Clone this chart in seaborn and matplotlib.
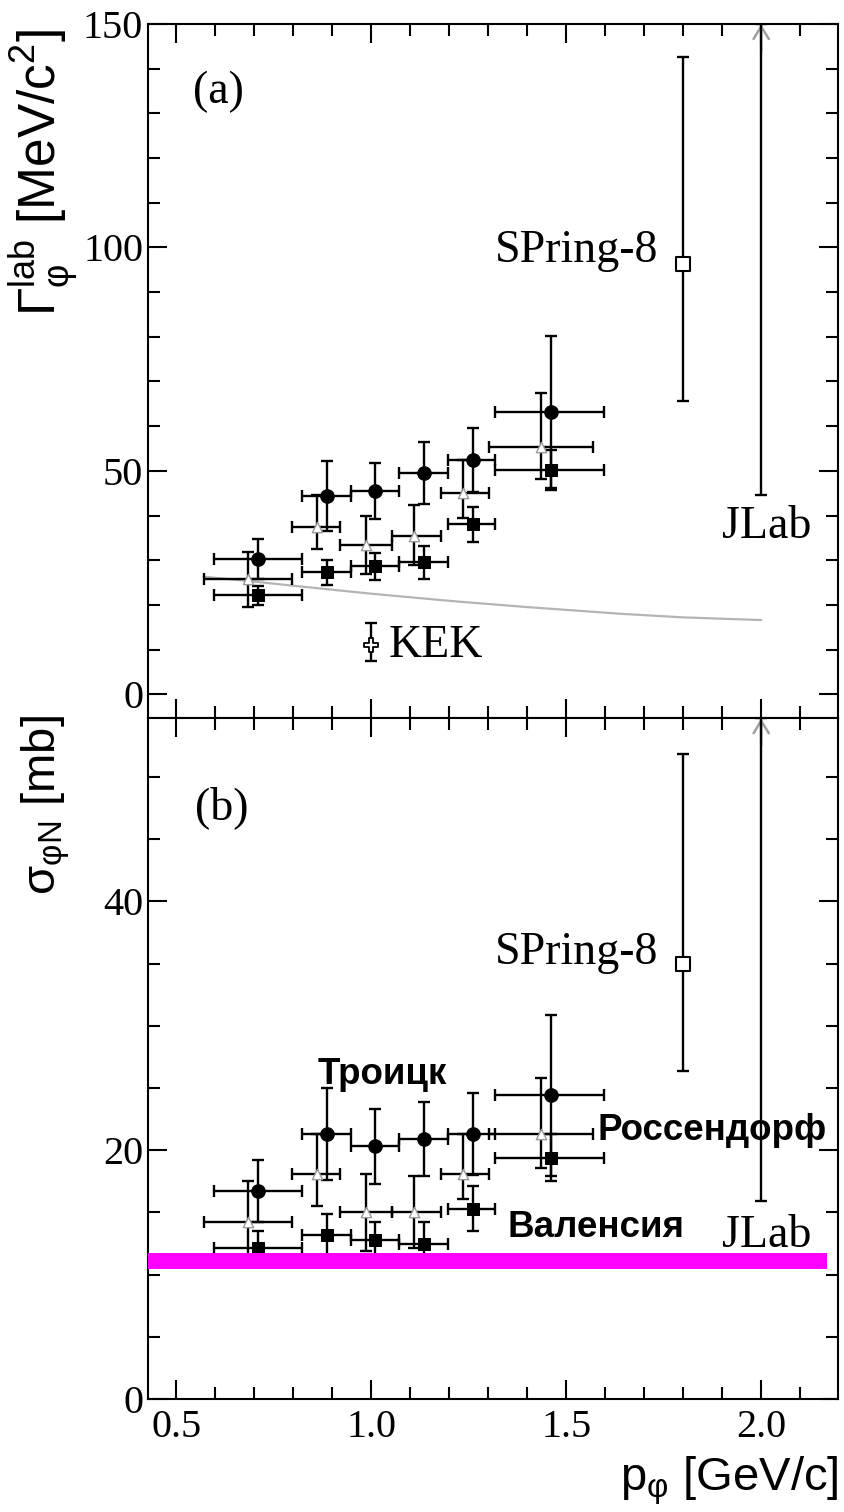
import numpy as np
import pandas as pd
import matplotlib
matplotlib.use("Agg")
import matplotlib.pyplot as plt
from matplotlib.ticker import MultipleLocator
import seaborn as sns

# ---------------- data ----------------
p_main = [0.71, 0.885, 1.01, 1.135, 1.26, 1.46]
p_main_lo = [0.596, 0.823, 0.947, 1.072, 1.197, 1.318]
p_main_hi = [0.823, 0.947, 1.072, 1.197, 1.318, 1.598]
p_tri = [0.683, 0.861, 0.986, 1.110, 1.236, 1.435]
p_tri_lo = [0.571, 0.796, 0.920, 1.053, 1.178, 1.302]
p_tri_hi = [0.796, 0.920, 1.053, 1.178, 1.302, 1.568]

width_circ = [30.3, 44.4, 45.5, 49.5, 52.4, 63.2]
width_circ_err = [4.4, 7.8, 6.3, 7.0, 7.2, 17.0]
width_sq = [22.1, 27.3, 28.6, 29.5, 38.0, 50.2]
width_sq_err = [2.1, 2.8, 3.0, 3.6, 3.9, 4.5]
width_tri = [25.7, 37.5, 33.4, 35.5, 45.0, 55.4]
width_tri_err_lo = [6.2, 5.1, 6.6, 6.6, 5.6, 7.2]
width_tri_err_hi = [6.2, 7.1, 6.6, 6.9, 7.4, 12.0]

sigma_circ = [16.7, 21.3, 20.3, 20.9, 21.3, 24.4]
sigma_circ_err = [2.5, 3.7, 3.0, 3.0, 3.3, 6.5]
sigma_sq = [12.1, 13.2, 12.8, 12.5, 15.3, 19.4]
sigma_sq_err = [1.4, 1.7, 1.4, 1.7, 1.8, 1.9]
sigma_tri = [14.2, 18.1, 15.0, 15.0, 18.1, 21.3]
sigma_tri_err_lo = [3.3, 2.6, 3.1, 2.9, 2.0, 2.7]
sigma_tri_err_hi = [3.3, 3.2, 3.1, 2.9, 3.2, 4.5]

kek_p = [1.0]
kek_width = [11.0]
kek_err_lo = [3.5]
kek_err_hi = [5.0]

spring8_p = [1.8]
spring8_width = [96.3]
spring8_width_lo = [30.7]
spring8_width_hi = [46.3]
spring8_sigma = [35.0]
spring8_sigma_lo = [8.6]
spring8_sigma_hi = [16.8]

jlab_p = [2.0]
jlab_width_min = [44.6]
jlab_sigma_min = [15.9]

curve_p = [0.57, 0.70, 0.82, 1.00, 1.20, 1.40, 1.64, 1.80, 2.00]
curve_width = [26.3, 25.2, 24.1, 22.5, 20.9, 19.5, 18.0, 17.2, 16.6]

magenta_sigma = 11.1
magenta_p_end = 2.168

x_ticks = [0.5, 1.0, 1.5, 2.0]
x_ticklabels = ["0.5", "1.0", "1.5", "2.0"]
width_ticks = [0, 50, 100, 150]
sigma_ticks = [0, 20, 40]

XLIM = (0.427, 2.198)
YLIM_TOP = (-5.4, 150)
YLIM_BOT = (0, 54.7)

# ---------------- style ----------------
sns.set_style("ticks", rc={
    "xtick.direction": "in", "ytick.direction": "in",
    "axes.edgecolor": "black", "xtick.color": "black", "ytick.color": "black",
    "axes.linewidth": 1.5,
})
plt.rcParams["font.family"] = ["Liberation Serif", "DejaVu Serif"]
plt.rcParams["mathtext.fontset"] = "custom"
plt.rcParams["mathtext.rm"] = "Liberation Sans"
plt.rcParams["mathtext.it"] = "Liberation Sans:italic"
plt.rcParams["mathtext.bf"] = "Liberation Sans:bold"

fig = plt.figure(figsize=(8.44, 15.12), dpi=100)
ax1 = fig.add_axes([0.1754, 0.5249, 0.8179, 0.4592])
ax2 = fig.add_axes([0.1754, 0.0747, 0.8179, 0.4502])

EB = dict(fmt="none", ecolor="black", elinewidth=1.7, capsize=4.6, capthick=1.7)


def draw_set(ax, y_c, e_c, y_s, e_s, y_t, e_t_lo, e_t_hi):
    xm = np.array(p_main)
    xerr_m = [xm - np.array(p_main_lo), np.array(p_main_hi) - xm]
    xt = np.array(p_tri)
    xerr_t = [xt - np.array(p_tri_lo), np.array(p_tri_hi) - xt]
    ax.errorbar(xm, y_c, xerr=xerr_m, yerr=e_c, zorder=3, **EB)
    ax.errorbar(xm, y_s, xerr=xerr_m, yerr=e_s, zorder=3, **EB)
    ax.errorbar(xt, y_t, xerr=xerr_t, yerr=[e_t_lo, e_t_hi], zorder=3, **EB)
    df_c = pd.DataFrame({"p": p_main, "v": y_c})
    df_s = pd.DataFrame({"p": p_main, "v": y_s})
    df_t = pd.DataFrame({"p": p_tri, "v": y_t})
    sns.scatterplot(data=df_c, x="p", y="v", marker="o", s=95, color="black",
                    edgecolor="black", ax=ax, zorder=4, legend=False)
    sns.scatterplot(data=df_s, x="p", y="v", marker="s", s=85, color="black",
                    edgecolor="black", ax=ax, zorder=4, legend=False)
    sns.scatterplot(data=df_t, x="p", y="v", marker="^", s=55, color="white",
                    edgecolor="#9a9a9a", linewidth=1.0, ax=ax, zorder=5, legend=False)


# ---- top panel ----
sns.lineplot(x=curve_p, y=curve_width, color="#b4b4b4", linewidth=1.6, ax=ax1, zorder=2)
draw_set(ax1, width_circ, width_circ_err, width_sq, width_sq_err,
         width_tri, width_tri_err_lo, width_tri_err_hi)

ax1.errorbar(kek_p, kek_width, yerr=[kek_err_lo, kek_err_hi], zorder=3, **EB)
sns.scatterplot(x=kek_p, y=kek_width, marker="P", s=110, color="white",
                edgecolor="black", linewidth=1.3, ax=ax1, zorder=4, legend=False)

ax1.errorbar(spring8_p, spring8_width, yerr=[spring8_width_lo, spring8_width_hi], zorder=3, **EB)
sns.scatterplot(x=spring8_p, y=spring8_width, marker="s", s=110, color="white",
                edgecolor="black", linewidth=1.5, ax=ax1, zorder=4, legend=False)

for ax, ymin, ylim in [(ax1, jlab_width_min, YLIM_TOP), (ax2, jlab_sigma_min, YLIM_BOT)]:
    ax.errorbar(jlab_p, ymin, yerr=[[0], [ylim[1] - ymin[0]]], zorder=3, **EB)
    span = ylim[1] - ylim[0]
    ax.annotate("", xy=(jlab_p[0], ylim[1]), xytext=(jlab_p[0], ylim[1] - 0.04 * span),
                arrowprops=dict(arrowstyle="->,head_length=0.9,head_width=0.55",
                                color="#a0a0a0", lw=1.8, shrinkA=0, shrinkB=0),
                zorder=2)

# ---- bottom panel ----
draw_set(ax2, sigma_circ, sigma_circ_err, sigma_sq, sigma_sq_err,
         sigma_tri, sigma_tri_err_lo, sigma_tri_err_hi)
ax2.errorbar(spring8_p, spring8_sigma, yerr=[spring8_sigma_lo, spring8_sigma_hi], zorder=3, **EB)
sns.scatterplot(x=spring8_p, y=spring8_sigma, marker="s", s=110, color="white",
                edgecolor="black", linewidth=1.5, ax=ax2, zorder=4, legend=False)
ax2.hlines(magenta_sigma, XLIM[0], magenta_p_end, color="#ff00ff", linewidth=11.5,
           zorder=6, clip_on=False)

# ---- axes formatting ----
for ax, yl, yt, ymin_loc in [(ax1, YLIM_TOP, width_ticks, 10), (ax2, YLIM_BOT, sigma_ticks, 5)]:
    ax.set_xlim(*XLIM)
    ax.set_ylim(*yl)
    ax.set_xticks(x_ticks)
    ax.set_yticks(yt)
    ax.xaxis.set_minor_locator(MultipleLocator(0.1))
    ax.yaxis.set_minor_locator(MultipleLocator(ymin_loc))
    ax.tick_params(which="both", direction="in", top=True, right=True, width=1.5, color="black")
    ax.tick_params(which="major", length=13.5)
    ax.tick_params(which="minor", length=8.5)
    ax.tick_params(axis="y", labelsize=29, pad=3.5)
    ax.tick_params(axis="x", labelsize=29, pad=7)
    ax.set_xlabel("")
    ax.set_ylabel("")
    for s in ax.spines.values():
        s.set_linewidth(1.5)
        s.set_color("black")

ax1.set_xticklabels([])
ax2.set_xticklabels(x_ticklabels)

# ---- annotations ----
SER = dict(family="Liberation Serif", fontsize=33, color="black")
ax1.text(0.542, 134.8, "(a)", ha="left", va="center", **SER)
ax2.text(0.547, 47.5, "(b)", ha="left", va="center", **SER)
ax1.text(1.736, 96.7, "SPring-8", ha="right", va="baseline", **SER)
ax2.text(1.736, 35.0, "SPring-8", ha="right", va="baseline", **SER)
ax1.text(1.90, 35.0, "JLab", ha="left", va="baseline", **SER)
ax2.text(1.90, 12.2, "JLab", ha="left", va="baseline", zorder=7, **SER)
ax1.text(1.043, 8.4, "KEK", ha="left", va="baseline", **SER)

RU = dict(family="Liberation Sans", fontsize=26.5, fontweight="bold", color="black")
ax2.text(0.863, 25.3, "Троицк", ha="left", va="baseline", **RU)
ax2.text(1.581, 20.8, "Россендорф", ha="left", va="baseline", **RU)
ax2.text(1.348, 13.0, "Валенсия", ha="left", va="baseline", **RU)

SANS = dict(family="Liberation Sans", color="black")
fig.text(0.052, 0.981, r"$\mathrm{Γ}^{\mathrm{lab}}_{\mathrm{φ}}$ [MeV/c$^{\mathrm{2}}$]",
         rotation=90, ha="center", va="top", fontsize=37, **SANS)
fig.text(0.054, 0.527, r"σ$_{\mathrm{φN}}$ [mb]", rotation=90, ha="center", va="top",
         fontsize=34, **SANS)
fig.text(0.994, 0.0141, r"p$_{\mathrm{φ}}$ [GeV/c]", ha="right", va="baseline",
         fontsize=34, **SANS)

fig.savefig("out.png", dpi=100)
